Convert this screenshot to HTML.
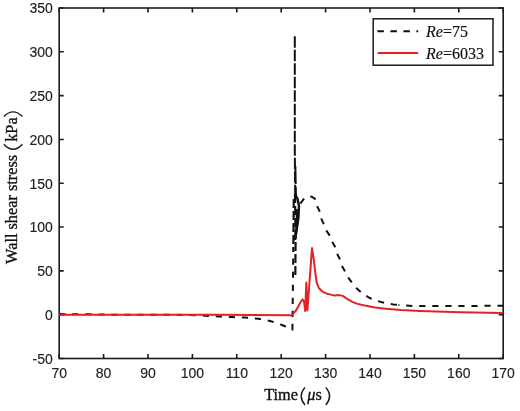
<!DOCTYPE html>
<html><head><meta charset="utf-8"><style>
html,body{margin:0;padding:0;background:#fff;width:520px;height:411px;overflow:hidden;}
svg{display:block;filter:blur(0.35px);}
</style></head><body><svg width="520" height="411" viewBox="0 0 520 411"><rect x="59.2" y="8.0" width="444.00" height="350.50" fill="none" stroke="#1c1c1c" stroke-width="1.6"/><path d="M59.20,358.5v-4.5M59.20,8.0v4.5M103.60,358.5v-4.5M103.60,8.0v4.5M148.00,358.5v-4.5M148.00,8.0v4.5M192.40,358.5v-4.5M192.40,8.0v4.5M236.80,358.5v-4.5M236.80,8.0v4.5M281.20,358.5v-4.5M281.20,8.0v4.5M325.60,358.5v-4.5M325.60,8.0v4.5M370.00,358.5v-4.5M370.00,8.0v4.5M414.40,358.5v-4.5M414.40,8.0v4.5M458.80,358.5v-4.5M458.80,8.0v4.5M503.20,358.5v-4.5M503.20,8.0v4.5M59.2,358.50h4.5M503.2,358.50h-4.5M59.2,314.69h4.5M503.2,314.69h-4.5M59.2,270.88h4.5M503.2,270.88h-4.5M59.2,227.06h4.5M503.2,227.06h-4.5M59.2,183.25h4.5M503.2,183.25h-4.5M59.2,139.44h4.5M503.2,139.44h-4.5M59.2,95.62h4.5M503.2,95.62h-4.5M59.2,51.81h4.5M503.2,51.81h-4.5M59.2,8.00h4.5M503.2,8.00h-4.5" stroke="#1c1c1c" stroke-width="1.6" fill="none"/><text x="59.20" y="378" text-anchor="middle" font-family="&quot;Liberation Sans&quot;, sans-serif" font-size="14" fill="#222" stroke="#222" stroke-width="0.15">70</text><text x="103.60" y="378" text-anchor="middle" font-family="&quot;Liberation Sans&quot;, sans-serif" font-size="14" fill="#222" stroke="#222" stroke-width="0.15">80</text><text x="148.00" y="378" text-anchor="middle" font-family="&quot;Liberation Sans&quot;, sans-serif" font-size="14" fill="#222" stroke="#222" stroke-width="0.15">90</text><text x="192.40" y="378" text-anchor="middle" font-family="&quot;Liberation Sans&quot;, sans-serif" font-size="14" fill="#222" stroke="#222" stroke-width="0.15">100</text><text x="236.80" y="378" text-anchor="middle" font-family="&quot;Liberation Sans&quot;, sans-serif" font-size="14" fill="#222" stroke="#222" stroke-width="0.15">110</text><text x="281.20" y="378" text-anchor="middle" font-family="&quot;Liberation Sans&quot;, sans-serif" font-size="14" fill="#222" stroke="#222" stroke-width="0.15">120</text><text x="325.60" y="378" text-anchor="middle" font-family="&quot;Liberation Sans&quot;, sans-serif" font-size="14" fill="#222" stroke="#222" stroke-width="0.15">130</text><text x="370.00" y="378" text-anchor="middle" font-family="&quot;Liberation Sans&quot;, sans-serif" font-size="14" fill="#222" stroke="#222" stroke-width="0.15">140</text><text x="414.40" y="378" text-anchor="middle" font-family="&quot;Liberation Sans&quot;, sans-serif" font-size="14" fill="#222" stroke="#222" stroke-width="0.15">150</text><text x="458.80" y="378" text-anchor="middle" font-family="&quot;Liberation Sans&quot;, sans-serif" font-size="14" fill="#222" stroke="#222" stroke-width="0.15">160</text><text x="503.20" y="378" text-anchor="middle" font-family="&quot;Liberation Sans&quot;, sans-serif" font-size="14" fill="#222" stroke="#222" stroke-width="0.15">170</text><text x="52.8" y="363.90" text-anchor="end" font-family="&quot;Liberation Sans&quot;, sans-serif" font-size="14" fill="#222" stroke="#222" stroke-width="0.15">-50</text><text x="52.8" y="320.09" text-anchor="end" font-family="&quot;Liberation Sans&quot;, sans-serif" font-size="14" fill="#222" stroke="#222" stroke-width="0.15">0</text><text x="52.8" y="276.27" text-anchor="end" font-family="&quot;Liberation Sans&quot;, sans-serif" font-size="14" fill="#222" stroke="#222" stroke-width="0.15">50</text><text x="52.8" y="232.46" text-anchor="end" font-family="&quot;Liberation Sans&quot;, sans-serif" font-size="14" fill="#222" stroke="#222" stroke-width="0.15">100</text><text x="52.8" y="188.65" text-anchor="end" font-family="&quot;Liberation Sans&quot;, sans-serif" font-size="14" fill="#222" stroke="#222" stroke-width="0.15">150</text><text x="52.8" y="144.84" text-anchor="end" font-family="&quot;Liberation Sans&quot;, sans-serif" font-size="14" fill="#222" stroke="#222" stroke-width="0.15">200</text><text x="52.8" y="101.03" text-anchor="end" font-family="&quot;Liberation Sans&quot;, sans-serif" font-size="14" fill="#222" stroke="#222" stroke-width="0.15">250</text><text x="52.8" y="57.21" text-anchor="end" font-family="&quot;Liberation Sans&quot;, sans-serif" font-size="14" fill="#222" stroke="#222" stroke-width="0.15">300</text><text x="52.8" y="13.40" text-anchor="end" font-family="&quot;Liberation Sans&quot;, sans-serif" font-size="14" fill="#222" stroke="#222" stroke-width="0.15">350</text><polyline points="59.2,314.1 95.0,314.3 110.0,314.7 175.0,314.7 190.0,315.1 205.0,315.7 219.0,316.4 232.0,317.1 245.0,317.6 258.7,318.7 271.0,321.2 283.3,325.5 290.5,328.8 292.4,329.7 293.3,252.0" fill="none" stroke="#111" stroke-width="2" stroke-dasharray="6.2 6.85" stroke-linejoin="round"/><polyline points="294.8,36.2 294.8,150.0 295.2,198.0" fill="none" stroke="#111" stroke-width="2" stroke-dasharray="11.5 2" stroke-linejoin="round"/><polyline points="295.4,166.0 296.0,198.0" fill="none" stroke="#111" stroke-width="1.9" stroke-dasharray="18 2.5"/><polyline points="295.0,194.0 295.6,240.0 295.3,278.0" fill="none" stroke="#111" stroke-width="2.2" stroke-dasharray="9 3" stroke-linejoin="round"/><polyline points="293.3,252.0 293.8,196.0" fill="none" stroke="#111" stroke-width="2.2" stroke-dasharray="9 3" stroke-dashoffset="4" stroke-linejoin="round"/><polyline points="295.0,194.0 297.6,199.0 299.0,206.0 298.4,218.0 296.6,230.0 295.0,240.0" fill="none" stroke="#111" stroke-width="2.4" stroke-linejoin="round"/><polyline points="296.6,209.0 297.2,222.0 295.6,236.0" fill="none" stroke="#111" stroke-width="2.4" stroke-linejoin="round"/><polyline points="398.4,305.0 405.9,305.6 412.3,305.9 420.0,306.1 460.0,306.0 503.2,305.7" fill="none" stroke="#111" stroke-width="2" stroke-dasharray="6.2 6.85" stroke-dashoffset="5.25"/><polyline points="298.6,206.0 300.4,203.6 302.6,200.5 304.8,197.8 307.0,196.8 309.5,196.4 311.5,196.7 313.7,197.8 315.8,199.8 317.3,206.4 320.1,212.4 321.6,219.4 324.5,225.5 326.7,231.2 331.1,237.4 332.5,242.3 336.2,248.9 337.6,254.7 340.6,260.7 342.4,266.7 345.7,272.7 349.0,278.7 353.0,284.1 357.1,288.8 362.4,293.4 367.8,296.8 373.8,300.1 379.8,301.6 386.3,303.3 393.3,304.4 398.4,305.0" fill="none" stroke="#111" stroke-width="2" stroke-dasharray="6.2 6.85" stroke-dashoffset="10.05" stroke-linejoin="round"/><polyline points="59.2,314.7 220.0,314.7 250.0,315.0 291.8,315.2 296.0,310.5 300.0,303.2 302.6,299.3 304.0,301.5 305.2,311.0 306.3,282.5 307.4,310.5 312.0,248.0 313.7,258.9 315.2,272.0 316.6,282.2 318.8,288.0 322.5,291.7 326.8,293.7 329.8,294.4 334.6,295.6 339.4,295.1 342.8,295.9 347.1,298.8 351.9,301.6 356.7,303.6 363.5,305.2 375.0,307.4 383.5,308.5 400.8,309.9 420.0,310.9 460.0,312.2 503.2,313.1" fill="none" stroke="#e02228" stroke-width="2" stroke-linejoin="round"/><rect x="373.2" y="18.8" width="119.8" height="46.4" fill="#fff" stroke="#1c1c1c" stroke-width="1.5"/><path d="M377.4,31.3H418.2" stroke="#111" stroke-width="2" stroke-dasharray="6.5 6.5"/><path d="M377.5,52.9H418.2" stroke="#e02228" stroke-width="2"/><text x="426" y="36.6" font-family="&quot;Liberation Serif&quot;, serif" font-size="16" fill="#111" stroke="#111" stroke-width="0.15"><tspan font-style="italic">Re</tspan>=75</text><text x="426" y="59.4" font-family="&quot;Liberation Serif&quot;, serif" font-size="16" fill="#111" stroke="#111" stroke-width="0.15"><tspan font-style="italic">Re</tspan>=6033</text><text x="264.2" y="400.3" font-family="&quot;Liberation Serif&quot;, serif" font-size="16.3" fill="#111" stroke="#111" stroke-width="0.35">Time</text><path d="M305,387.4 Q297.4,396.2 305,405" stroke="#1a1a1a" stroke-width="1.4" fill="none"/><path d="M325.8,387.4 Q333.4,396.2 325.8,405" stroke="#1a1a1a" stroke-width="1.4" fill="none"/><text x="307.3" y="399.8" font-family="&quot;Liberation Serif&quot;, serif" font-size="16.3" fill="#111" stroke="#111" stroke-width="0.35"><tspan font-style="italic">μ</tspan>s</text><g transform="translate(17.4,263.9) rotate(-90)"><text x="0" y="0" font-family="&quot;Liberation Serif&quot;, serif" font-size="16.3" fill="#111" stroke="#111" stroke-width="0.35">Wall shear stress</text><text x="122.1" y="0" font-family="&quot;Liberation Serif&quot;, serif" font-size="16.3" fill="#111" stroke="#111" stroke-width="0.35">kPa</text></g><path d="M3.8,144.3 Q13.1,154.3 22.4,144.3" stroke="#1a1a1a" stroke-width="1.4" fill="none"/><path d="M3.8,116.6 Q13.1,107.2 22.4,116.6" stroke="#1a1a1a" stroke-width="1.4" fill="none"/></svg></body></html>
